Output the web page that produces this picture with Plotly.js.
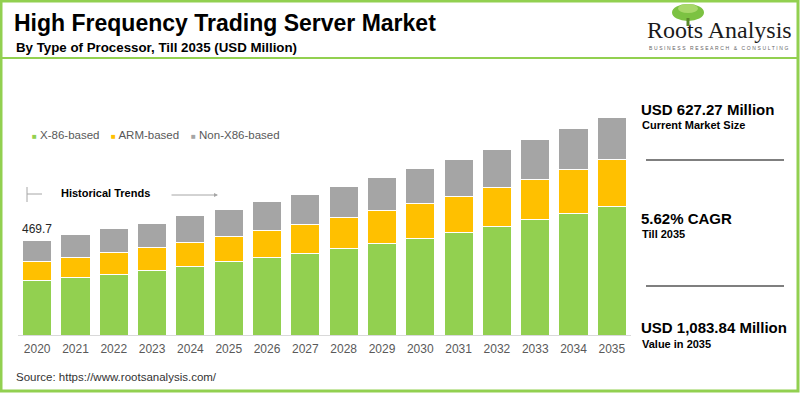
<!DOCTYPE html>
<html>
<head>
<meta charset="utf-8">
<script src="https://cdn.plot.ly/plotly-3.0.1.min.js"></script>
<style>
  html, body { margin: 0; padding: 0; background: #ffffff; }
  #chart { width: 800px; height: 393px; }
</style>
</head>
<body>
<div id="chart"></div>
<script>
// ---- Data (USD Million) ----
const years = ['2020','2021','2022','2023','2024','2025','2026','2027','2028','2029','2030','2031','2032','2033','2034','2035'];
const x86Based = [269, 287, 302, 322, 342, 364, 385, 407, 432, 457, 482, 509, 541, 573, 606, 641];
const armBased = [95, 98, 108, 113, 120, 128, 136, 144, 152, 161, 174, 181, 191, 203, 216, 231];
const nonX86Based = [105.7, 113, 118, 121, 131, 135.3, 142, 151, 154, 164, 171, 182, 191, 197, 208, 212];
const seriesNames = ['X-86-based', 'ARM-based', 'Non-X86-based'];
const seriesColors = ['#92D050', '#FFC000', '#A5A5A5'];

const titleText = 'High Frequency Trading Server Market';
const subtitleText = 'By Type of Processor, Till 2035 (USD Million)';
const kpiCurrent = 'USD 627.27 Million';
const kpiCurrentLabel = 'Current Market Size';
const kpiCagr = '5.62% CAGR';
const kpiCagrLabel = 'Till 2035';
const kpiFuture = 'USD 1,083.84 Million';
const kpiFutureLabel = 'Value in 2035';
const sourceText = 'Source: https://www.rootsanalysis.com/';

// ---- Layout geometry ----
const W = 800, H = 393;
const PL = 18, PR = 631, PT = 100, PB = 335;
const pw = PR - PL, ph = PB - PT;
const px = v => (v - PL) / pw;
const py = v => (PB - v) / ph;
const FONT = 'Liberation Sans, Arial, sans-serif';

const seriesData = [x86Based, armBased, nonX86Based];
const traces = seriesData.map((vals, i) => ({
  type: 'bar',
  name: seriesNames[i],
  x: years,
  y: vals,
  marker: { color: seriesColors[i], line: { color: '#ffffff', width: 1 } },
  hoverinfo: 'x+y+name',
  showlegend: false
}));

const firstTotal = x86Based[0] + armBased[0] + nonX86Based[0];

function txt(text, xp, yp, size, opts) {
  return Object.assign({
    text: text, xref: 'paper', yref: 'paper', x: px(xp), y: py(yp),
    xanchor: 'left', yanchor: 'middle', showarrow: false,
    font: { family: FONT, size: size, color: '#000000' }
  }, opts || {});
}
const legendFont = { family: FONT, size: 11.5, color: '#595959' };
const legendItem = i => '<span style="color:' + seriesColors[i] + ';font-size:8px">■</span> ' + seriesNames[i];

const annotations = [
  txt('<b>' + subtitleText + '</b>', 14, 48, 13.3, {}),
  txt(legendItem(0), 30, 135, 11.5, { font: legendFont }),
  txt(legendItem(1), 109, 135, 11.5, { font: legendFont }),
  txt(legendItem(2), 189, 135, 11.5, { font: legendFont }),
  txt('<b>Historical Trends</b>', 59, 193, 11, {}),
  { xref: 'paper', yref: 'paper', x: px(218), y: py(195), ax: -48, ay: 0, axref: 'pixel', ayref: 'pixel',
    showarrow: true, arrowhead: 2, arrowsize: 0.8, arrowwidth: 1, arrowcolor: '#a6a6a6', text: '' },
  { xref: 'x', yref: 'y', x: 0, y: firstTotal, yanchor: 'bottom', yshift: 3, showarrow: false,
    text: firstTotal.toFixed(1), font: { family: FONT, size: 12, color: '#262626' } },
  txt('<b>' + kpiCurrent + '</b>', 639, 110, 15, {}),
  txt('<b>' + kpiCurrentLabel + '</b>', 640, 125, 11, {}),
  txt('<b>' + kpiCagr + '</b>', 639, 218, 15, {}),
  txt('<b>' + kpiCagrLabel + '</b>', 640, 234, 11, {}),
  txt('<b>' + kpiFuture + '</b>', 639, 327, 15, {}),
  txt('<b>' + kpiFutureLabel + '</b>', 640, 344, 11, {}),
  txt(sourceText, 14, 377, 11.5, { font: { family: FONT, size: 11.5, color: '#333333' } }),
  txt('Roots Analysis', 645, 30, 24, { font: { family: 'Liberation Serif, Times New Roman, serif', size: 24, color: '#1a1a1a' } }),
  txt('<span style="letter-spacing:1.6px">BUSINESS RESEARCH &amp; CONSULTING</span>', 647, 48, 5, { font: { family: FONT, size: 5, color: '#666666' } })
];

const shapes = [
  { type: 'rect', xref: 'paper', yref: 'paper', x0: px(1), x1: px(798), y0: py(1), y1: py(391),
    line: { color: '#92D050', width: 3 }, layer: 'above' },
  { type: 'line', xref: 'paper', yref: 'paper', x0: px(1), x1: px(798), y0: py(58), y1: py(58),
    line: { color: '#92D050', width: 2 } },
  { type: 'line', xref: 'paper', yref: 'paper', x0: px(27), x1: px(27), y0: py(187), y1: py(202),
    line: { color: '#a6a6a6', width: 1 } },
  { type: 'line', xref: 'paper', yref: 'paper', x0: px(27), x1: px(42), y0: py(194), y1: py(194),
    line: { color: '#a6a6a6', width: 1 } },
  { type: 'line', xref: 'paper', yref: 'paper', x0: px(646), x1: px(784), y0: py(160), y1: py(160),
    line: { color: '#7f7f7f', width: 2 } },
  { type: 'line', xref: 'paper', yref: 'paper', x0: px(646), x1: px(784), y0: py(286), y1: py(286),
    line: { color: '#7f7f7f', width: 2 } },
  { type: 'circle', xref: 'paper', yref: 'paper', x0: px(672), x1: px(704), y0: py(4), y1: py(21),
    fillcolor: '#7cc242', line: { width: 0 } },
  { type: 'circle', xref: 'paper', yref: 'paper', x0: px(678), x1: px(698), y0: py(4), y1: py(13),
    fillcolor: '#a8d86a', line: { width: 0 } },
  { type: 'rect', xref: 'paper', yref: 'paper', x0: px(686.5), x1: px(689.5), y0: py(18), y1: py(26),
    fillcolor: '#5a8a2a', line: { width: 0 } }
];

const layout = {
  width: W, height: H,
  margin: { l: PL, r: W - PR, t: PT, b: H - PB, pad: 0 },
  paper_bgcolor: '#ffffff', plot_bgcolor: '#ffffff',
  barmode: 'stack', bargap: 0.24,
  title: { text: '<b>' + titleText + '</b>', x: 14 / W, xanchor: 'left', xref: 'container',
    y: 1 - 23 / H, yanchor: 'middle', yref: 'container',
    font: { family: FONT, size: 23, color: '#000000' } },
  xaxis: { type: 'category', range: [-0.5, years.length - 0.5], autorange: false,
    showgrid: false, zeroline: false, showline: true, linecolor: '#d9d9d9', linewidth: 1,
    ticks: '', ticklabelstandoff: 3, tickfont: { family: FONT, size: 12, color: '#595959' }, fixedrange: true },
  yaxis: { range: [0, 1170], autorange: false, visible: false, showgrid: false, zeroline: false, fixedrange: true },
  annotations: annotations,
  shapes: shapes,
  showlegend: false
};

Plotly.newPlot('chart', traces, layout, { displayModeBar: false, staticPlot: true });
</script>
</body>
</html>
